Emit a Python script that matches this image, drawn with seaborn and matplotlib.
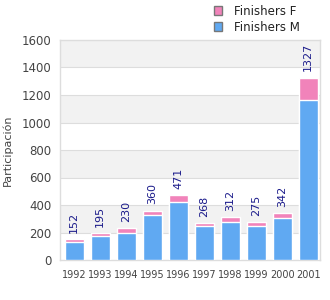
import matplotlib
matplotlib.use("Agg")
import matplotlib.pyplot as plt
from matplotlib.patches import Patch
import pandas as pd
import seaborn as sns

years = ["1992", "1993", "1994", "1995", "1996", "1997", "1998", "1999", "2000", "2001"]
totals = [152, 195, 230, 360, 471, 268, 312, 275, 342, 1327]
finishers_m = [132, 175, 195, 325, 421, 248, 277, 248, 306, 1163]

df = pd.DataFrame({"year": years, "total": totals, "m": finishers_m})

pink = "#F183BA"
blue = "#60A9F2"

sns.set_style("white")
fig = plt.figure(figsize=(3.3, 3.0), dpi=100)
ax = fig.add_axes([60 / 330, 40 / 300, 260 / 330, 220 / 300])

# alternating background bands
for lo in range(200, 1600, 400):
    ax.axhspan(lo, lo + 200, color="#F2F2F2", zorder=0, lw=0)
for y in range(200, 1600, 200):
    ax.axhline(y, color="#DDDDDD", lw=0.8, zorder=0.5)

sns.barplot(data=df, x="year", y="total", color=pink, saturation=1, width=0.73, ax=ax, zorder=2)
sns.barplot(data=df, x="year", y="m", color=blue, saturation=1, width=0.73, ax=ax, zorder=3)

for i, t in enumerate(totals):
    ax.annotate(str(t), (i, t), xytext=(0, 4.5), textcoords="offset points",
                rotation=90, ha="center", va="bottom", fontsize=8, color="#1A1A8A")

ax.set_ylim(0, 1600)
ax.set_xlim(-0.55, 9.45)
ax.set_yticks(range(0, 1601, 200))
ax.tick_params(axis="y", labelsize=8.5, labelcolor="#444444", length=0, pad=6)
ax.tick_params(axis="x", labelsize=7, labelcolor="#444444", length=0, pad=7)
ax.set_xlabel("")
ax.set_ylabel("")
for s in ax.spines.values():
    s.set_color("#DDDDDD")
    s.set_linewidth(1)

fig.text(0.022, 0.5, "Participación", rotation=90, ha="center", va="center",
         fontsize=8, color="#444444")

handles = [Patch(facecolor=pink, edgecolor="#777777", label="Finishers F"),
           Patch(facecolor=blue, edgecolor="#777777", label="Finishers M")]
fig.legend(handles=handles, loc="upper left", bbox_to_anchor=(203 / 330, 1.02), frameon=False,
           fontsize=8.5, handlelength=0.75, handleheight=0.75, labelspacing=0.25, handletextpad=1.0,
           labelcolor="#222222")

fig.savefig("out.png", dpi=100)
